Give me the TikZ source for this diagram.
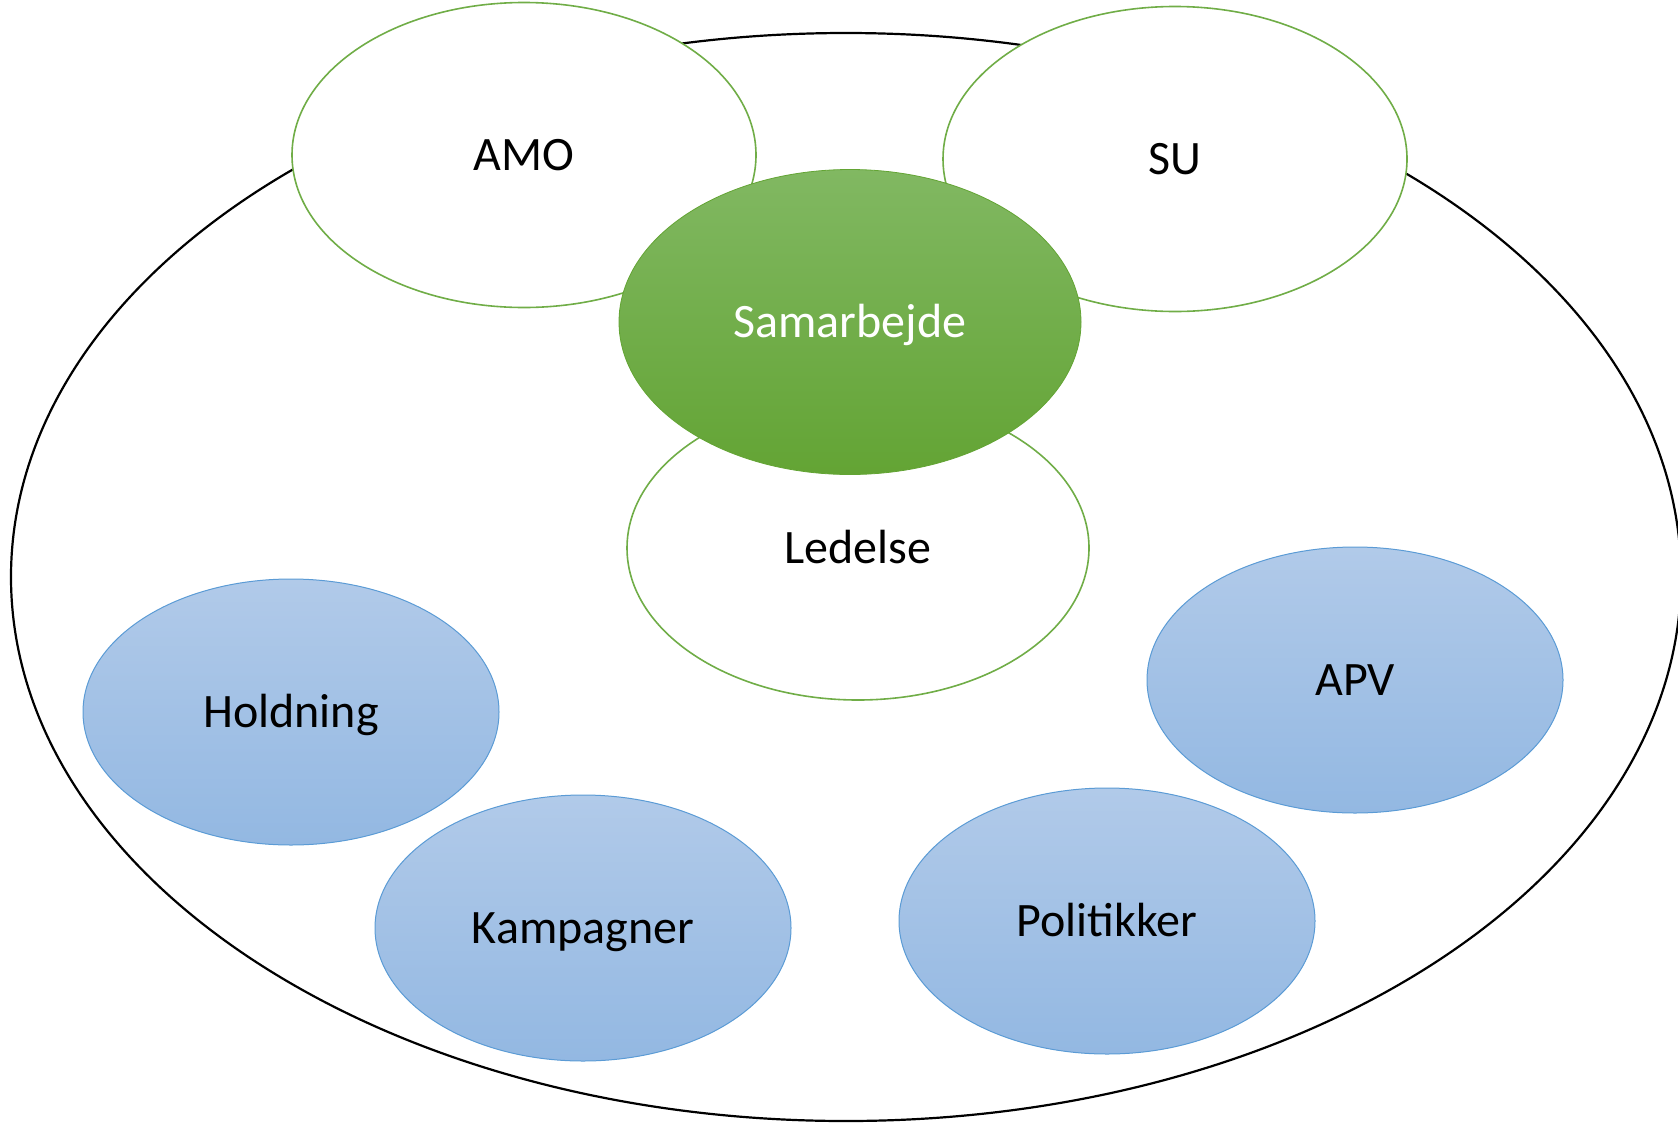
\documentclass[tikz,border=0pt]{standalone}
\usepackage{fontspec}
\setmainfont{Carlito}
\usetikzlibrary{shapes.geometric}
\definecolor{grline}{HTML}{70AD47}
\definecolor{grtop}{HTML}{81B862}
\definecolor{grbot}{HTML}{63A434}
\definecolor{bltop}{HTML}{B1CAE9}
\definecolor{blbot}{HTML}{93B8E2}
\definecolor{blline}{HTML}{5B9BD5}
\tikzset{
  lbl/.style={font=\fontsize{48}{57}\selectfont, text height=30.5pt, text depth=0pt, inner sep=0pt},
  whiteell/.style={ellipse, draw=grline, line width=1.6pt, fill=white, lbl, minimum width=464pt, minimum height=305pt},
  greenell/.style={ellipse, shade, top color=grtop, bottom color=grbot, draw=grbot, line width=0.8pt, lbl, text=white, minimum width=462pt, minimum height=305pt},
  blueell/.style={ellipse, shade, top color=bltop, bottom color=blbot, draw=blline, line width=1pt, lbl, minimum width=416pt, minimum height=266pt},
  outerell/.style={ellipse, draw=black, line width=2.2pt, minimum width=1670pt, minimum height=1088pt, inner sep=0pt}
}
\begin{document}
\begin{tikzpicture}[x=1pt,y=-1pt]
\useasboundingbox (0,0) rectangle (1678,1122);
\clip (0,0) rectangle (1678,1122);
\node[outerell] (outer) at (846,577) {};
\node[whiteell] (amo) at (524,155) {AMO};
\node[whiteell] (su) at (1175,159) {SU};
\node[whiteell, minimum width=462pt, minimum height=304pt] (ledelse) at (858,548) {Ledelse};
\node[greenell] (samarbejde) at (850,322) {Samarbejde};
\node[blueell] (holdning) at (291,712) {Holdning};
\node[blueell] (kampagner) at (583,928) {Kampagner};
\node[blueell] (apv) at (1355,680) {APV};
\node[blueell] (politikker) at (1107,921) {Politikker};
\end{tikzpicture}
\end{document}
